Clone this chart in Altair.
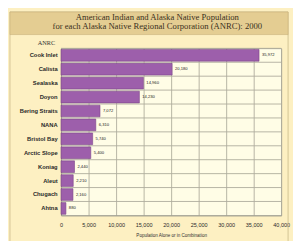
import altair as alt
import pandas as pd

corps = ["Cook Inlet", "Calista", "Sealaska", "Doyon", "Bering Straits", "NANA",
         "Bristol Bay", "Arctic Slope", "Koniag", "Aleut", "Chugach", "Ahtna"]
pop = [35972, 20180, 14960, 14230, 7072, 6310, 5740, 5400, 2440, 2210, 2160, 880]
x_ticks = [0, 5000, 10000, 15000, 20000, 25000, 30000, 35000, 40000]
title_lines = ["American Indian and Alaska Native Population",
               "for each Alaska Native Regional Corporation (ANRC): 2000"]
y_title = "ANRC"
x_title = "Population Alone or in Combination"

df = pd.DataFrame({"corp": corps, "pop": pop})
df["label"] = df["pop"].map(lambda v: f"{v:,}")

W, H = 224, 170
PL, PT, PR, PB = 54, 39, 12, 24
GRID = "#aeac9c"

yscale = alt.Scale(paddingInner=0, paddingOuter=0)
xscale = alt.Scale(domain=[0, 40000], nice=False)

yaxis = alt.Axis(orient="left", title=None, grid=False, ticks=False,
                 labelFontSize=5.9, labelFontWeight="bold",
                 labelColor="#2a2a2a", labelPadding=4,
                 labelFont="Liberation Sans",
                 domainColor="#9a9a8e", domainWidth=0.8)
yenc = alt.Y("corp:N", sort=corps, scale=yscale, axis=yaxis)
xaxis = alt.Axis(values=x_ticks, labelExpr="format(datum.value, ',')",
                 title=x_title, ticks=False, labelFontSize=5.6,
                 labelColor="#2a2a2a", labelFont="Liberation Sans",
                 labelPadding=7, labelFlush=False,
                 titleFontSize=4.6, titleFontWeight="normal",
                 titleColor="#333", titlePadding=5,
                 titleFont="Liberation Sans",
                 grid=True, gridColor=GRID, gridWidth=0.9,
                 domainColor="#9a9a8e", domainWidth=0.8)
xenc = alt.X("pop:Q", scale=xscale, axis=xaxis)

base = alt.Chart(df)

hgrid = base.mark_rule(color=GRID, strokeWidth=0.9).encode(
    y=alt.Y("corp:N", sort=corps, scale=yscale, bandPosition=0, axis=yaxis))

bars = base.mark_bar(color="#9d5fab", stroke="#7c4589", strokeWidth=0.6,
                     height={"band": 0.84}).encode(y=yenc, x=xenc)

labels = base.mark_text(align="left", baseline="middle", dx=3, fontSize=4.2,
                        font="Liberation Sans", color="#222").encode(
    y=yenc, x=xenc, text="label:N")

deco = alt.Chart(pd.DataFrame({"k": [0]}))

panel = deco.mark_rect(fillOpacity=0, stroke="#c9b98a", strokeWidth=0.8).encode(
    x=alt.value(2 - PL), x2=alt.value(285 - PL),
    y=alt.value(2 - PT), y2=alt.value(260 - PT))

band = deco.mark_rect(fill="#e4cd92", stroke="#c9b07a", strokeWidth=0.6).encode(
    x=alt.value(2 - PL), x2=alt.value(285 - PL),
    y=alt.value(2 - PT), y2=alt.value(25 - PT))

t1 = deco.mark_text(fontSize=8.8, font="Liberation Serif", color="#3a3020",
                    baseline="middle").encode(
    x=alt.value(152 - PL), y=alt.value(7.5 - PT), text=alt.value(title_lines[0]))
t2 = deco.mark_text(fontSize=8.8, font="Liberation Serif", color="#3a3020",
                    baseline="middle").encode(
    x=alt.value(152 - PL), y=alt.value(16.5 - PT), text=alt.value(title_lines[1]))
ytitle = deco.mark_text(fontSize=6.4, font="Liberation Serif", color="#333",
                        align="right", baseline="middle").encode(
    x=alt.value(-6), y=alt.value(-5), text=alt.value(y_title))

chart = alt.layer(panel, band, hgrid, bars, labels, t1, t2, ytitle).properties(
    width=W, height=H,
    padding={"left": PL, "top": PT, "right": PR, "bottom": PB},
    autosize=alt.AutoSizeParams(type="none"),
    background="#fdf0c2",
).configure_view(stroke="#9a9a8e", strokeWidth=0.8, fill="#fffde6")

chart.save("out.html", embed_options={"renderer": "svg", "actions": False})
